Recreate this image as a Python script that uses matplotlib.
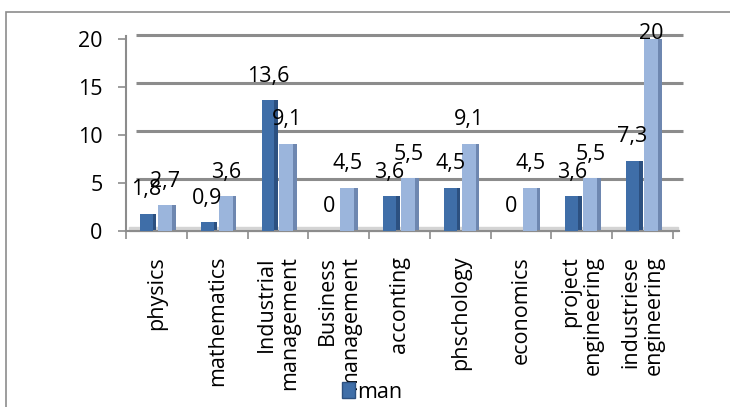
import matplotlib
matplotlib.use("Agg")
import matplotlib.pyplot as plt
import matplotlib.transforms as mtransforms
from matplotlib.patches import Patch, Rectangle
import numpy as np

plt.rcParams['font.family'] = ['Open Sans', 'DejaVu Sans']

categories = ["physics", "mathematics", "Industrial\nmanagement", "Business\nmanagement",
              "acconting", "phschology", "economics", "project\nengineering",
              "industriese\nengineering"]
man = [1.8, 0.9, 13.6, 0, 3.6, 4.5, 0, 3.6, 7.3]
woman = [2.7, 3.6, 9.1, 4.5, 5.5, 9.1, 4.5, 5.5, 20]
yticks = [0, 5, 10, 15, 20]

W, H = 730, 407
fig = plt.figure(figsize=(W / 100, H / 100), dpi=100)
ax = fig.add_axes([126 / W, 1 - 231 / H, (673 - 126) / W, (231 - 39) / H])

x = np.arange(len(categories))
fw, sw = 0.21, 0.06
dark, dark_side = '#3F6EA8', '#2C5080'
light, light_side = '#9BB5DC', '#6E87B0'
FS = 15.5

# floor plate
ax.axhspan(0, 0.45, xmin=0.005, xmax=1.01, color='#d4d4d4', zorder=1, clip_on=False)

# gridlines (back wall, slightly shifted)
gtrans = mtransforms.offset_copy(ax.get_yaxis_transform(), fig=fig, x=5, y=4, units='dots')
for t in yticks[1:]:
    ax.plot([0.01, 1.01], [t, t], color='#8c8c8c', lw=2.2, transform=gtrans,
            clip_on=False, zorder=1, solid_capstyle='butt')

dx, lx = -0.165, 0.14
ax.bar(x + dx, man, width=fw, color=dark, zorder=3, label='man')
ax.bar(x + dx + fw / 2 + sw / 2, man, width=sw, color=dark_side, zorder=2)
ax.bar(x + lx, woman, width=fw + 0.02, color=light, zorder=3, label='woman')
ax.bar(x + lx + (fw + 0.02) / 2 + sw / 2, woman, width=sw, color=light_side, zorder=2)

def fmt(v):
    return ('%g' % v).replace('.', ',')

for xs, vals in ((x + dx, man), (x + lx + 0.01, woman)):
    for xi, v in zip(xs, vals):
        ax.text(xi, min(v + 2.5, 20.55), fmt(v), ha='center', va='center',
                fontsize=FS, color='black', zorder=5)

ax.set_xlim(-0.5, len(categories) - 0.5)
ax.set_ylim(0, 20)
ax.set_yticks(yticks)
ax.set_yticklabels([str(t) for t in yticks])
ax.set_xticks(np.arange(len(categories) + 1) - 0.5, minor=False)
ax.set_xticklabels([])
ax.set_xticks(x, minor=True)
ax.set_xticklabels(categories, minor=True, rotation=90, ha='center', va='top',
                   multialignment='right', linespacing=1.15)
ax.tick_params(axis='x', which='minor', length=0, pad=18, labelsize=FS)
ax.tick_params(axis='x', which='major', length=6, width=1.2, color='#8c8c8c')
ax.tick_params(axis='y', length=6, width=1.2, color='#8c8c8c', labelsize=FS, pad=11)

for s in ['top', 'right']:
    ax.spines[s].set_visible(False)
for s in ['left', 'bottom']:
    ax.spines[s].set_color('#8c8c8c')
    ax.spines[s].set_linewidth(1.5)
ax.spines['bottom'].set_bounds(-0.5, 8.6)
ax.spines['left'].set_bounds(0, 20.3)
ax.set_facecolor('none')

# outer chart border
fig.patches.append(Rectangle((6 / W, -0.1), 1.2, 1.1 - 12 / H, transform=fig.transFigure,
                             fill=False, edgecolor='#8c8c8c', lw=1.2))

handles = [Patch(facecolor=dark, edgecolor='#2C5080')]
fig.legend(handles, ['man'], loc='center', bbox_to_anchor=(372 / W, 1 - 392 / H),
           frameon=False, fontsize=FS, handlelength=0.6, handleheight=0.8,
           handletextpad=0.1, borderpad=0)

fig.savefig('out.png', dpi=100)
